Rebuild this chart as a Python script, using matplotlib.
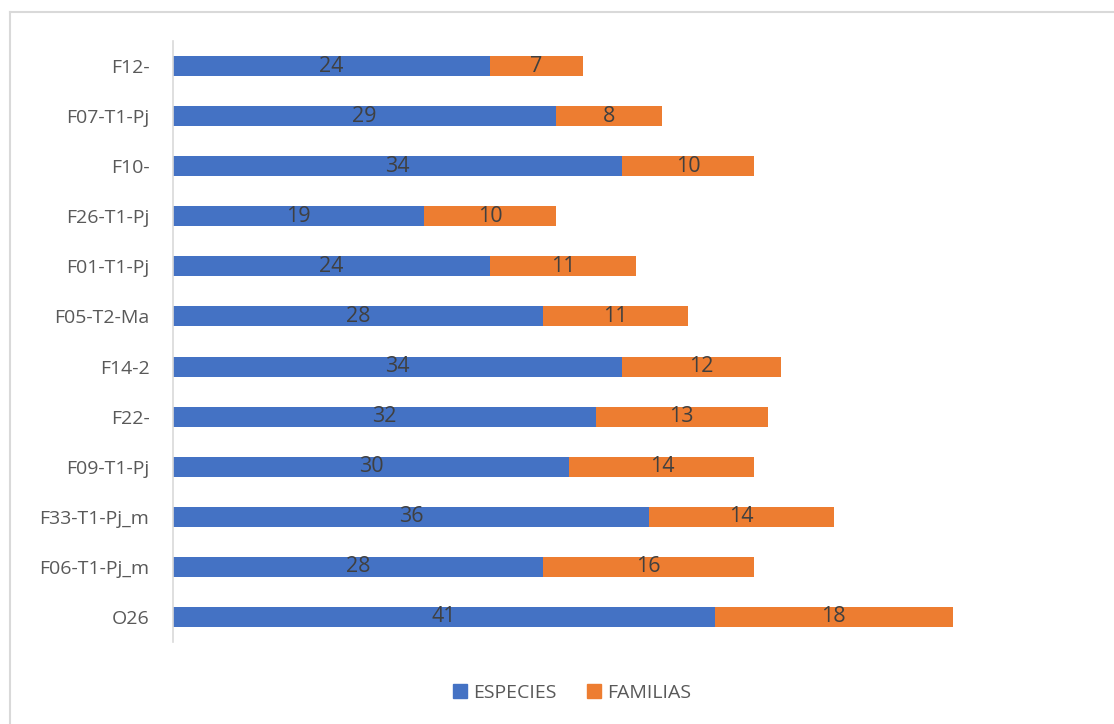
import matplotlib.pyplot as plt
from matplotlib.lines import Line2D
from matplotlib.patches import Patch

# categories listed bottom to top (as drawn by barh)
categories = [
    "O26", "F06-T1-Pj_m", "F33-T1-Pj_m", "F09-T1-Pj", "F22-", "F14-2",
    "F05-T2-Ma", "F01-T1-Pj", "F26-T1-Pj", "F10-", "F07-T1-Pj", "F12-",
]
especies = [41, 28, 36, 30, 32, 34, 28, 24, 19, 34, 29, 24]
familias = [18, 16, 14, 14, 13, 12, 11, 11, 10, 10, 8, 7]

BLUE = "#4472C4"
ORANGE = "#ED7D31"
W, H = 1114, 724

plt.rcParams["font.family"] = ["Open Sans", "DejaVu Sans"]

fig = plt.figure(figsize=(W / 100, H / 100), dpi=100)

# chart area border (only top and left edges fall inside the picture)
bx, by = 9.5 / W, 1 - 11.5 / H
fig.add_artist(Line2D([bx, 1], [by, by], transform=fig.transFigure, color="#d9d9d9", linewidth=1.5))
fig.add_artist(Line2D([bx, bx], [0, by], transform=fig.transFigure, color="#d9d9d9", linewidth=1.5))

ax = fig.add_axes([173 / W, 82 / H, 925 / W, 601 / H])
y = range(len(categories))
b1 = ax.barh(y, especies, height=0.4, color=BLUE, label="ESPECIES")
b2 = ax.barh(y, familias, left=especies, height=0.4, color=ORANGE, label="FAMILIAS")

for bars in (b1, b2):
    ax.bar_label(bars, label_type="center", color="#404040", fontsize=15.5)

ax.set_xlim(0, 70)
ax.set_ylim(-0.5, len(categories) - 0.5)
ax.set_yticks(list(y))
ax.set_yticklabels(categories, fontsize=14, color="#595959")
ax.tick_params(axis="y", length=0, pad=17)
ax.set_xticks([])
for side in ("top", "right", "bottom"):
    ax.spines[side].set_visible(False)
ax.spines["left"].set_color("#d9d9d9")
ax.spines["left"].set_linewidth(1.2)

handles = [Patch(color=BLUE, label="ESPECIES"), Patch(color=ORANGE, label="FAMILIAS")]
leg = fig.legend(handles=handles, loc="center", bbox_to_anchor=(572 / W, 1 - 693 / H),
                 ncol=2, frameon=False, fontsize=14, handlelength=0.7,
                 handleheight=0.7, handletextpad=0.3, columnspacing=1.6)
for t in leg.get_texts():
    t.set_color("#595959")

fig.savefig("out.png", dpi=100)
